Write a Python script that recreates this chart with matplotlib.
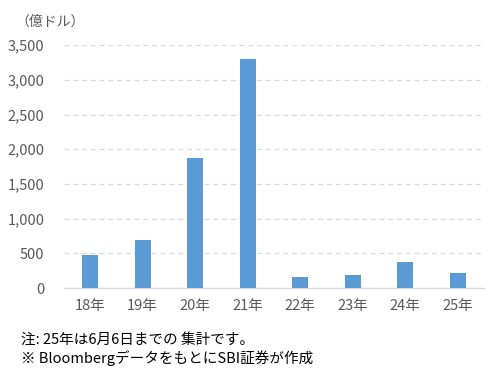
import matplotlib
matplotlib.use("Agg")
import matplotlib.pyplot as plt
from matplotlib.ticker import FuncFormatter

plt.rcParams['font.family'] = ['Noto Sans CJK JP', 'DejaVu Sans']

years = ["18年", "19年", "20年", "21年", "22年", "23年", "24年", "25年"]
values = [475, 690, 1870, 3300, 160, 190, 375, 220]
yticks = [0, 500, 1000, 1500, 2000, 2500, 3000, 3500]

BAR = "#5B9BD5"
GRAY = "#595959"
GRID = "#D9D9D9"

fig = plt.figure(figsize=(4.99, 3.79), dpi=100)
ax = fig.add_axes([0.128, 0.240, 0.842, 0.641])

ax.bar(range(len(years)), values, width=0.31, color=BAR, zorder=3)
ax.set_xlim(-0.5, len(years) - 0.5)
ax.set_ylim(0, 3500)
ax.set_yticks(yticks)
ax.yaxis.set_major_formatter(FuncFormatter(lambda v, p: f"{int(v):,}"))
ax.set_xticks(range(len(years)))
ax.set_xticklabels(years)

ax.grid(axis="y", color=GRID, linestyle=(0, (4, 3)), linewidth=0.9, zorder=0)
for s in ["top", "right", "left"]:
    ax.spines[s].set_visible(False)
ax.spines["bottom"].set_color(GRID)
ax.spines["bottom"].set_linewidth(1.0)
ax.tick_params(axis="both", length=0, labelsize=10.5, colors=GRAY, pad=8)
ax.tick_params(axis="y", pad=14)

fig.text(0.030, 0.942, "（億ドル）", fontsize=10, color=GRAY, va="center")
fig.text(0.042, 0.103, "注: 25年は6月6日までの 集計です。", fontsize=10.5, color="black", va="center")
fig.text(0.042, 0.055, "※ BloombergデータをもとにSBI証券が作成", fontsize=10.5, color="black", va="center")

fig.savefig("out.png", dpi=100)
